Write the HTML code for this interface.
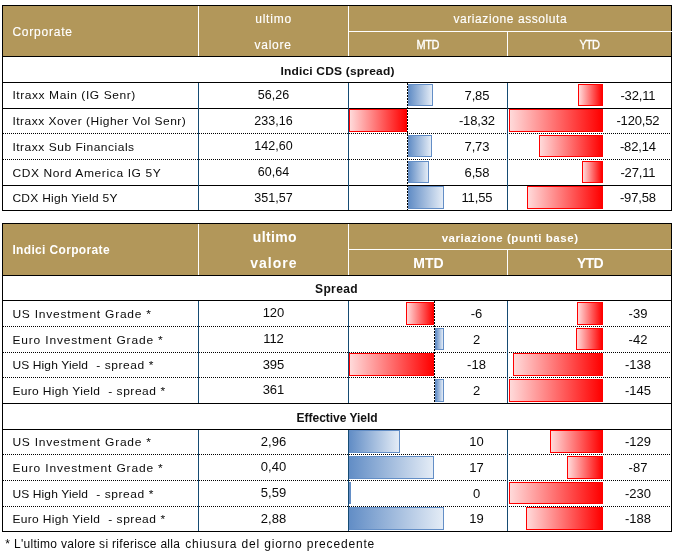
<!DOCTYPE html>
<html lang="it"><head><meta charset="utf-8"><title>Indici Corporate</title>
<style>
html,body{margin:0;padding:0;background:#fff}
body{width:675px;height:556px;position:relative;overflow:hidden;font-family:"Liberation Sans", sans-serif}
#g div{position:absolute}
#t span{position:absolute;white-space:pre;line-height:20px;height:20px}
</style></head><body>
<div id="g">

<div style="left:2px;top:5px;width:670px;height:52px;background:#B2975A"></div>
<div style="left:198px;top:6px;width:1px;height:50px;background:#fff"></div>
<div style="left:348px;top:6px;width:1px;height:50px;background:#fff"></div>
<div style="left:507px;top:31px;width:1px;height:25px;background:#fff"></div>
<div style="left:2px;top:5px;width:670px;height:1px;background:#000"></div>
<div style="left:2px;top:210px;width:670px;height:1px;background:#000"></div>
<div style="left:2px;top:5px;width:1px;height:206px;background:#000"></div>
<div style="left:671px;top:5px;width:1px;height:206px;background:#000"></div>
<div style="left:2px;top:56px;width:670px;height:1px;background:#000"></div>
<div style="left:348px;top:31px;width:324px;height:1px;background:#fff"></div>
<div style="left:2px;top:82px;width:670px;height:1px;background:#000"></div>
<div style="left:2px;top:108px;width:670px;height:1px;background:#000"></div>
<div style="left:2px;top:185px;width:670px;height:1px;background:#000"></div>
<div style="left:3px;top:133px;width:668px;height:1px;background:repeating-linear-gradient(90deg,#000 0 1px,transparent 1px 2px)"></div>
<div style="left:3px;top:159px;width:668px;height:1px;background:repeating-linear-gradient(90deg,#000 0 1px,transparent 1px 2px)"></div>
<div style="left:198px;top:83px;width:1px;height:127px;background:#164B73"></div>
<div style="left:348px;top:83px;width:1px;height:127px;background:#164B73"></div>
<div style="left:507px;top:83px;width:1px;height:127px;background:#164B73"></div>
<div style="left:407px;top:83px;width:1px;height:127px;background:repeating-linear-gradient(180deg,#000 0 2px,transparent 2px 3px)"></div>
<div style="left:408px;top:84px;width:25px;height:22px;background:linear-gradient(90deg,#638EC6 0%,#E4ECF6 100%);border:1px solid #638EC6;box-sizing:border-box"></div>
<div style="left:578px;top:84px;width:25px;height:22px;background:linear-gradient(90deg,#FFDADA 0%,#FF0000 100%);border:1px solid #FF0000;box-sizing:border-box"></div>
<div style="left:349px;top:109px;width:58px;height:23px;background:linear-gradient(90deg,#FFDADA 0%,#FF0000 100%);border:1px solid #FF0000;box-sizing:border-box"></div>
<div style="left:509px;top:109px;width:94px;height:23px;background:linear-gradient(90deg,#FFDADA 0%,#FF0000 100%);border:1px solid #FF0000;box-sizing:border-box"></div>
<div style="left:408px;top:135px;width:24px;height:22px;background:linear-gradient(90deg,#638EC6 0%,#E4ECF6 100%);border:1px solid #638EC6;box-sizing:border-box"></div>
<div style="left:539px;top:135px;width:64px;height:22px;background:linear-gradient(90deg,#FFDADA 0%,#FF0000 100%);border:1px solid #FF0000;box-sizing:border-box"></div>
<div style="left:408px;top:161px;width:21px;height:22px;background:linear-gradient(90deg,#638EC6 0%,#E4ECF6 100%);border:1px solid #638EC6;box-sizing:border-box"></div>
<div style="left:582px;top:161px;width:21px;height:22px;background:linear-gradient(90deg,#FFDADA 0%,#FF0000 100%);border:1px solid #FF0000;box-sizing:border-box"></div>
<div style="left:408px;top:186px;width:36px;height:23px;background:linear-gradient(90deg,#638EC6 0%,#E4ECF6 100%);border:1px solid #638EC6;box-sizing:border-box"></div>
<div style="left:527px;top:186px;width:76px;height:23px;background:linear-gradient(90deg,#FFDADA 0%,#FF0000 100%);border:1px solid #FF0000;box-sizing:border-box"></div>
<div style="left:2px;top:223px;width:670px;height:53px;background:#B2975A"></div>
<div style="left:198px;top:224px;width:1px;height:51px;background:#fff"></div>
<div style="left:348px;top:224px;width:1px;height:51px;background:#fff"></div>
<div style="left:507px;top:249px;width:1px;height:26px;background:#fff"></div>
<div style="left:2px;top:223px;width:670px;height:1px;background:#000"></div>
<div style="left:2px;top:531px;width:670px;height:1px;background:#000"></div>
<div style="left:2px;top:223px;width:1px;height:309px;background:#000"></div>
<div style="left:671px;top:223px;width:1px;height:309px;background:#000"></div>
<div style="left:2px;top:275px;width:670px;height:1px;background:#000"></div>
<div style="left:348px;top:249px;width:324px;height:1px;background:#fff"></div>
<div style="left:2px;top:300px;width:670px;height:1px;background:#000"></div>
<div style="left:2px;top:403px;width:670px;height:1px;background:#000"></div>
<div style="left:2px;top:429px;width:670px;height:1px;background:#000"></div>
<div style="left:3px;top:326px;width:668px;height:1px;background:repeating-linear-gradient(90deg,#000 0 1px,transparent 1px 2px)"></div>
<div style="left:3px;top:352px;width:668px;height:1px;background:repeating-linear-gradient(90deg,#000 0 1px,transparent 1px 2px)"></div>
<div style="left:3px;top:377px;width:668px;height:1px;background:repeating-linear-gradient(90deg,#000 0 1px,transparent 1px 2px)"></div>
<div style="left:3px;top:454px;width:668px;height:1px;background:repeating-linear-gradient(90deg,#000 0 1px,transparent 1px 2px)"></div>
<div style="left:3px;top:480px;width:668px;height:1px;background:repeating-linear-gradient(90deg,#000 0 1px,transparent 1px 2px)"></div>
<div style="left:3px;top:506px;width:668px;height:1px;background:repeating-linear-gradient(90deg,#000 0 1px,transparent 1px 2px)"></div>
<div style="left:198px;top:301px;width:1px;height:102px;background:#164B73"></div>
<div style="left:198px;top:430px;width:1px;height:101px;background:#164B73"></div>
<div style="left:348px;top:301px;width:1px;height:102px;background:#164B73"></div>
<div style="left:348px;top:430px;width:1px;height:101px;background:#164B73"></div>
<div style="left:507px;top:301px;width:1px;height:102px;background:#164B73"></div>
<div style="left:507px;top:430px;width:1px;height:101px;background:#164B73"></div>
<div style="left:434px;top:301px;width:1px;height:102px;background:repeating-linear-gradient(180deg,#000 0 2px,transparent 2px 3px)"></div>
<div style="left:406px;top:302px;width:28px;height:23px;background:linear-gradient(90deg,#FFDADA 0%,#FF0000 100%);border:1px solid #FF0000;box-sizing:border-box"></div>
<div style="left:577px;top:302px;width:26px;height:23px;background:linear-gradient(90deg,#FFDADA 0%,#FF0000 100%);border:1px solid #FF0000;box-sizing:border-box"></div>
<div style="left:435px;top:328px;width:9px;height:22px;background:linear-gradient(90deg,#638EC6 0%,#E4ECF6 100%);border:1px solid #638EC6;box-sizing:border-box"></div>
<div style="left:576px;top:328px;width:27px;height:22px;background:linear-gradient(90deg,#FFDADA 0%,#FF0000 100%);border:1px solid #FF0000;box-sizing:border-box"></div>
<div style="left:349px;top:353px;width:85px;height:23px;background:linear-gradient(90deg,#FFDADA 0%,#FF0000 100%);border:1px solid #FF0000;box-sizing:border-box"></div>
<div style="left:513px;top:353px;width:90px;height:23px;background:linear-gradient(90deg,#FFDADA 0%,#FF0000 100%);border:1px solid #FF0000;box-sizing:border-box"></div>
<div style="left:435px;top:379px;width:9px;height:23px;background:linear-gradient(90deg,#638EC6 0%,#E4ECF6 100%);border:1px solid #638EC6;box-sizing:border-box"></div>
<div style="left:509px;top:379px;width:94px;height:23px;background:linear-gradient(90deg,#FFDADA 0%,#FF0000 100%);border:1px solid #FF0000;box-sizing:border-box"></div>
<div style="left:349px;top:430px;width:51px;height:23px;background:linear-gradient(90deg,#638EC6 0%,#E4ECF6 100%);border:1px solid #638EC6;box-sizing:border-box"></div>
<div style="left:550px;top:430px;width:53px;height:23px;background:linear-gradient(90deg,#FFDADA 0%,#FF0000 100%);border:1px solid #FF0000;box-sizing:border-box"></div>
<div style="left:349px;top:456px;width:85px;height:23px;background:linear-gradient(90deg,#638EC6 0%,#E4ECF6 100%);border:1px solid #638EC6;box-sizing:border-box"></div>
<div style="left:567px;top:456px;width:36px;height:23px;background:linear-gradient(90deg,#FFDADA 0%,#FF0000 100%);border:1px solid #FF0000;box-sizing:border-box"></div>
<div style="left:349px;top:482px;width:2px;height:22px;background:linear-gradient(90deg,#638EC6 0%,#E4ECF6 100%);border:1px solid #638EC6;box-sizing:border-box"></div>
<div style="left:509px;top:482px;width:94px;height:22px;background:linear-gradient(90deg,#FFDADA 0%,#FF0000 100%);border:1px solid #FF0000;box-sizing:border-box"></div>
<div style="left:349px;top:507px;width:95px;height:23px;background:linear-gradient(90deg,#638EC6 0%,#E4ECF6 100%);border:1px solid #638EC6;box-sizing:border-box"></div>
<div style="left:526px;top:507px;width:77px;height:23px;background:linear-gradient(90deg,#FFDADA 0%,#FF0000 100%);border:1px solid #FF0000;box-sizing:border-box"></div>

</div>
<div id="t">

<span style="left:12.40px;top:22.00px;font-size:12px;color:#ffffff;letter-spacing:0.778px;-webkit-text-stroke:0.15px #ffffff">Corporate</span>
<span style="left:255.20px;top:9.00px;font-size:12px;color:#ffffff;letter-spacing:0.797px;-webkit-text-stroke:0.15px #ffffff">ultimo</span>
<span style="left:254.40px;top:35.00px;font-size:12px;color:#ffffff;letter-spacing:0.782px;-webkit-text-stroke:0.15px #ffffff">valore</span>
<span style="left:453.40px;top:9.00px;font-size:12px;color:#ffffff;letter-spacing:0.587px;-webkit-text-stroke:0.15px #ffffff">variazione assoluta</span>
<span style="left:416.40px;top:35.00px;font-size:11px;color:#ffffff;letter-spacing:-0.414px;-webkit-text-stroke:0.3px #ffffff;transform:scaleY(1.1);transform-origin:0 14.00px">MTD</span>
<span style="left:579.40px;top:35.00px;font-size:11px;color:#ffffff;letter-spacing:-0.700px;-webkit-text-stroke:0.3px #ffffff;transform:scaleY(1.1);transform-origin:0 14.00px">YTD</span>
<span style="left:280.40px;top:61.00px;font-size:12px;color:#111;font-weight:bold;letter-spacing:0.184px;transform:scaleY(0.93);transform-origin:0 14.00px">Indici CDS (spread)</span>
<span style="left:12.40px;top:85.00px;font-size:12px;color:#0a0a0a;letter-spacing:0.577px;transform:scaleY(0.93);transform-origin:0 14.00px">Itraxx Main (IG Senr)</span>
<span style="left:257.76px;top:85.00px;font-size:12.5px;color:#0a0a0a;letter-spacing:0.050px">56,26</span>
<span style="left:464.57px;top:86.00px;font-size:13px;color:#0a0a0a;letter-spacing:-0.150px">7,85</span>
<span style="left:620.42px;top:86.00px;font-size:13px;color:#0a0a0a;letter-spacing:-0.150px">-32,11</span>
<span style="left:12.40px;top:111.00px;font-size:12px;color:#0a0a0a;letter-spacing:0.483px;transform:scaleY(0.93);transform-origin:0 14.00px">Itraxx Xover (Higher Vol Senr)</span>
<span style="left:254.26px;top:111.00px;font-size:12.5px;color:#0a0a0a;letter-spacing:0.050px">233,16</span>
<span style="left:458.94px;top:111.00px;font-size:13px;color:#0a0a0a;letter-spacing:-0.150px">-18,32</span>
<span style="left:616.40px;top:111.00px;font-size:13px;color:#0a0a0a;letter-spacing:-0.150px">-120,52</span>
<span style="left:12.40px;top:137.00px;font-size:12px;color:#0a0a0a;letter-spacing:0.515px;transform:scaleY(0.93);transform-origin:0 14.00px">Itraxx Sub Financials</span>
<span style="left:254.26px;top:136.00px;font-size:12.5px;color:#0a0a0a;letter-spacing:0.050px">142,60</span>
<span style="left:464.57px;top:137.00px;font-size:13px;color:#0a0a0a;letter-spacing:-0.150px">7,73</span>
<span style="left:619.94px;top:137.00px;font-size:13px;color:#0a0a0a;letter-spacing:-0.150px">-82,14</span>
<span style="left:12.40px;top:163.00px;font-size:12px;color:#0a0a0a;letter-spacing:0.620px;transform:scaleY(0.93);transform-origin:0 14.00px">CDX Nord America IG 5Y</span>
<span style="left:257.76px;top:162.00px;font-size:12.5px;color:#0a0a0a;letter-spacing:0.050px">60,64</span>
<span style="left:464.57px;top:163.00px;font-size:13px;color:#0a0a0a;letter-spacing:-0.150px">6,58</span>
<span style="left:620.42px;top:163.00px;font-size:13px;color:#0a0a0a;letter-spacing:-0.150px">-27,11</span>
<span style="left:12.40px;top:188.00px;font-size:12px;color:#0a0a0a;letter-spacing:0.268px;transform:scaleY(0.93);transform-origin:0 14.00px">CDX High Yield 5Y</span>
<span style="left:254.26px;top:188.00px;font-size:12.5px;color:#0a0a0a;letter-spacing:0.050px">351,57</span>
<span style="left:461.51px;top:188.00px;font-size:13px;color:#0a0a0a;letter-spacing:-0.150px">11,55</span>
<span style="left:619.94px;top:188.00px;font-size:13px;color:#0a0a0a;letter-spacing:-0.150px">-97,58</span>
<span style="left:12.40px;top:240.00px;font-size:12px;color:#ffffff;font-weight:bold;letter-spacing:0.346px">Indici Corporate</span>
<span style="left:252.80px;top:227.00px;font-size:14px;color:#ffffff;font-weight:bold;letter-spacing:0.360px">ultimo</span>
<span style="left:250.20px;top:253.00px;font-size:14px;color:#ffffff;font-weight:bold;letter-spacing:1.030px">valore</span>
<span style="left:441.70px;top:228.00px;font-size:11.5px;color:#ffffff;font-weight:bold;letter-spacing:0.531px">variazione (punti base)</span>
<span style="left:413.30px;top:253.00px;font-size:14px;color:#ffffff;font-weight:bold;letter-spacing:-0.064px">MTD</span>
<span style="left:577.00px;top:253.00px;font-size:14px;color:#ffffff;font-weight:bold;letter-spacing:-0.750px">YTD</span>
<span style="left:315.00px;top:279.00px;font-size:12px;color:#111;font-weight:bold;letter-spacing:0.383px">Spread</span>
<span style="left:296.60px;top:408.00px;font-size:12px;color:#111;font-weight:bold;letter-spacing:-0.027px">Effective Yield</span>
<span style="left:12.40px;top:304.00px;font-size:12px;color:#0a0a0a;letter-spacing:0.760px;transform:scaleY(0.93);transform-origin:0 14.00px">US Investment Grade *</span>
<span style="left:262.65px;top:303.00px;font-size:13px;color:#0a0a0a">120</span>
<span style="left:470.72px;top:304.00px;font-size:13px;color:#0a0a0a">-6</span>
<span style="left:628.60px;top:304.00px;font-size:13px;color:#0a0a0a">-39</span>
<span style="left:12.40px;top:330.00px;font-size:12px;color:#0a0a0a;letter-spacing:0.833px;transform:scaleY(0.93);transform-origin:0 14.00px">Euro Investment Grade *</span>
<span style="left:263.13px;top:329.00px;font-size:13px;color:#0a0a0a">112</span>
<span style="left:472.88px;top:330.00px;font-size:13px;color:#0a0a0a">2</span>
<span style="left:628.60px;top:330.00px;font-size:13px;color:#0a0a0a">-42</span>
<span style="left:12.40px;top:355.00px;font-size:12px;color:#0a0a0a;letter-spacing:0.129px;transform:scaleY(0.93);transform-origin:0 14.00px">US High Yield</span>
<span style="left:96.20px;top:355.00px;font-size:12px;color:#0a0a0a;letter-spacing:0.574px;transform:scaleY(0.93);transform-origin:0 14.00px">- spread *</span>
<span style="left:262.65px;top:355.00px;font-size:13px;color:#0a0a0a">395</span>
<span style="left:467.10px;top:355.00px;font-size:13px;color:#0a0a0a">-18</span>
<span style="left:624.98px;top:355.00px;font-size:13px;color:#0a0a0a">-138</span>
<span style="left:12.40px;top:381.00px;font-size:12px;color:#0a0a0a;letter-spacing:0.349px;transform:scaleY(0.93);transform-origin:0 14.00px">Euro High Yield</span>
<span style="left:108.20px;top:381.00px;font-size:12px;color:#0a0a0a;letter-spacing:0.541px;transform:scaleY(0.93);transform-origin:0 14.00px">- spread *</span>
<span style="left:262.65px;top:380.00px;font-size:13px;color:#0a0a0a">361</span>
<span style="left:472.88px;top:381.00px;font-size:13px;color:#0a0a0a">2</span>
<span style="left:624.98px;top:381.00px;font-size:13px;color:#0a0a0a">-145</span>
<span style="left:12.40px;top:432.00px;font-size:12px;color:#0a0a0a;letter-spacing:0.760px;transform:scaleY(0.93);transform-origin:0 14.00px">US Investment Grade *</span>
<span style="left:260.84px;top:432.00px;font-size:13px;color:#0a0a0a">2,96</span>
<span style="left:469.27px;top:432.00px;font-size:13px;color:#0a0a0a">10</span>
<span style="left:624.98px;top:432.00px;font-size:13px;color:#0a0a0a">-129</span>
<span style="left:12.40px;top:458.00px;font-size:12px;color:#0a0a0a;letter-spacing:0.833px;transform:scaleY(0.93);transform-origin:0 14.00px">Euro Investment Grade *</span>
<span style="left:260.84px;top:457.00px;font-size:13px;color:#0a0a0a">0,40</span>
<span style="left:469.27px;top:458.00px;font-size:13px;color:#0a0a0a">17</span>
<span style="left:628.60px;top:458.00px;font-size:13px;color:#0a0a0a">-87</span>
<span style="left:12.40px;top:484.00px;font-size:12px;color:#0a0a0a;letter-spacing:0.129px;transform:scaleY(0.93);transform-origin:0 14.00px">US High Yield</span>
<span style="left:96.20px;top:484.00px;font-size:12px;color:#0a0a0a;letter-spacing:0.574px;transform:scaleY(0.93);transform-origin:0 14.00px">- spread *</span>
<span style="left:260.84px;top:483.00px;font-size:13px;color:#0a0a0a">5,59</span>
<span style="left:472.88px;top:484.00px;font-size:13px;color:#0a0a0a">0</span>
<span style="left:624.98px;top:484.00px;font-size:13px;color:#0a0a0a">-230</span>
<span style="left:12.40px;top:509.00px;font-size:12px;color:#0a0a0a;letter-spacing:0.349px;transform:scaleY(0.93);transform-origin:0 14.00px">Euro High Yield</span>
<span style="left:108.20px;top:509.00px;font-size:12px;color:#0a0a0a;letter-spacing:0.541px;transform:scaleY(0.93);transform-origin:0 14.00px">- spread *</span>
<span style="left:260.84px;top:509.00px;font-size:13px;color:#0a0a0a">2,88</span>
<span style="left:469.27px;top:509.00px;font-size:13px;color:#0a0a0a">19</span>
<span style="left:624.98px;top:509.00px;font-size:13px;color:#0a0a0a">-188</span>
<span style="left:5.30px;top:534.00px;font-size:12px;color:#0a0a0a;letter-spacing:0.304px">* L'ultimo valore si riferisce alla</span>
<span style="left:185.20px;top:534.00px;font-size:12px;color:#0a0a0a;letter-spacing:0.839px">chiusura del giorno precedente</span>

</div>
</body></html>
